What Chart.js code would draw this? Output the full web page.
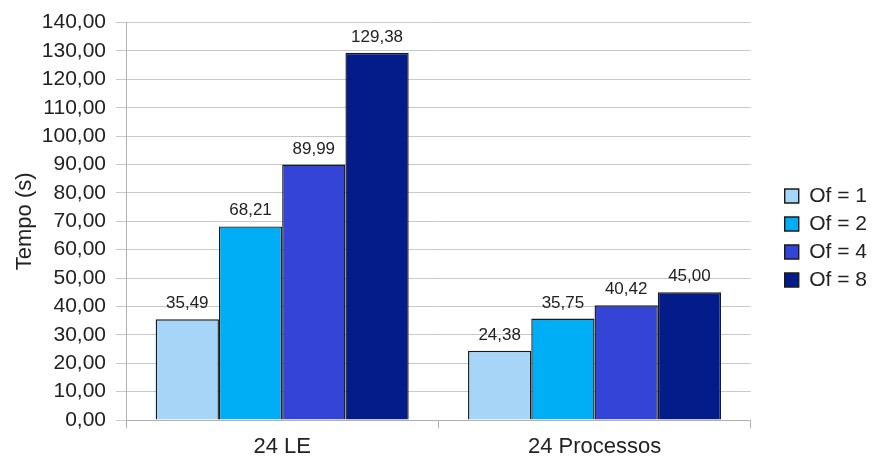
<!DOCTYPE html>
<html>
<head>
<meta charset="utf-8">
<script src="https://cdn.jsdelivr.net/npm/chart.js@4/dist/chart.umd.min.js"></script>
<style>
  html, body { margin: 0; padding: 0; background: #fff; }
  .cv-frame { width: 876px; height: 460px; }
</style>
</head>
<body>
<div class="cv-frame"><canvas id="c" width="876" height="460"></canvas></div>
<script>
const categories = ['24 LE', '24 Processos'];
const seriesNames = ['Of = 1', 'Of = 2', 'Of = 4', 'Of = 8'];
const of1 = [35.49, 24.38];
const of2 = [68.21, 35.75];
const of4 = [89.99, 40.42];
const of8 = [129.38, 45.00];
const colors = ['#a6d5f7', '#00aef5', '#3344d6', '#041c8a'];

const FONT = '"Liberation Sans", Arial, sans-serif';
const fmt = v => Number(v).toFixed(2).replace('.', ',');

// value labels above each bar
const barLabels = {
  id: 'barLabels',
  afterDatasetsDraw(chart) {
    const ctx = chart.ctx;
    ctx.save();
    ctx.font = '17px ' + FONT;
    ctx.fillStyle = '#222';
    ctx.textAlign = 'center';
    ctx.textBaseline = 'alphabetic';
    chart.data.datasets.forEach((ds, i) => {
      chart.getDatasetMeta(i).data.forEach((bar, j) => {
        ctx.fillText(fmt(ds.data[j]), bar.x, bar.y - 11);
      });
    });
    ctx.restore();
  }
};

// push the legend a bit further right of the plot
const legendShift = {
  id: 'legendShift',
  beforeDraw(chart) {
    const lg = chart.legend;
    if (!lg || lg._shifted) return;
    const orig = lg.draw;
    lg.draw = function () {
      const c = this.ctx;
      c.save();
      c.translate(27, 1);
      orig.apply(this, arguments);
      c.restore();
    };
    lg._shifted = true;
  }
};

const ctx = document.getElementById('c').getContext('2d');
new Chart(ctx, {
  type: 'bar',
  data: {
    labels: categories,
    datasets: [of1, of2, of4, of8].map((d, i) => ({
      label: seriesNames[i],
      data: d,
      backgroundColor: colors[i],
      borderColor: '#1a1a1a',
      borderWidth: 1.4,
      categoryPercentage: 0.81,
      barPercentage: 1.0
    }))
  },
  options: {
    responsive: false,
    animation: false,
    layout: { padding: { top: 14, right: 26, bottom: 0, left: 10 } },
    plugins: {
      tooltip: { enabled: false },
      legend: {
        position: 'right',
        labels: {
          boxWidth: 14,
          boxHeight: 14,
          padding: 7,
          color: '#222',
          font: { family: FONT, size: 21 }
        }
      }
    },
    scales: {
      x: {
        afterFit(scale) { scale.height = 40; },
        grid: { offset: true, drawOnChartArea: false, tickLength: 8, color: '#b0b0b0' },
        border: { color: '#b0b0b0' },
        ticks: { color: '#222', padding: 6, font: { family: FONT, size: 22 } }
      },
      y: {
        min: 0,
        max: 140,
        afterFit(scale) { scale.width = 116; },
        grid: { color: '#c8c8c8', tickLength: 10 },
        border: { color: '#b0b0b0' },
        ticks: {
          stepSize: 10,
          color: '#222',
          padding: 10,
          font: { family: FONT, size: 21 },
          callback: v => fmt(v)
        },
        title: {
          display: true,
          text: 'Tempo (s)',
          color: '#222',
          padding: 2,
          font: { family: FONT, size: 22 }
        }
      }
    }
  },
  plugins: [barLabels, legendShift]
});
</script>
</body>
</html>
